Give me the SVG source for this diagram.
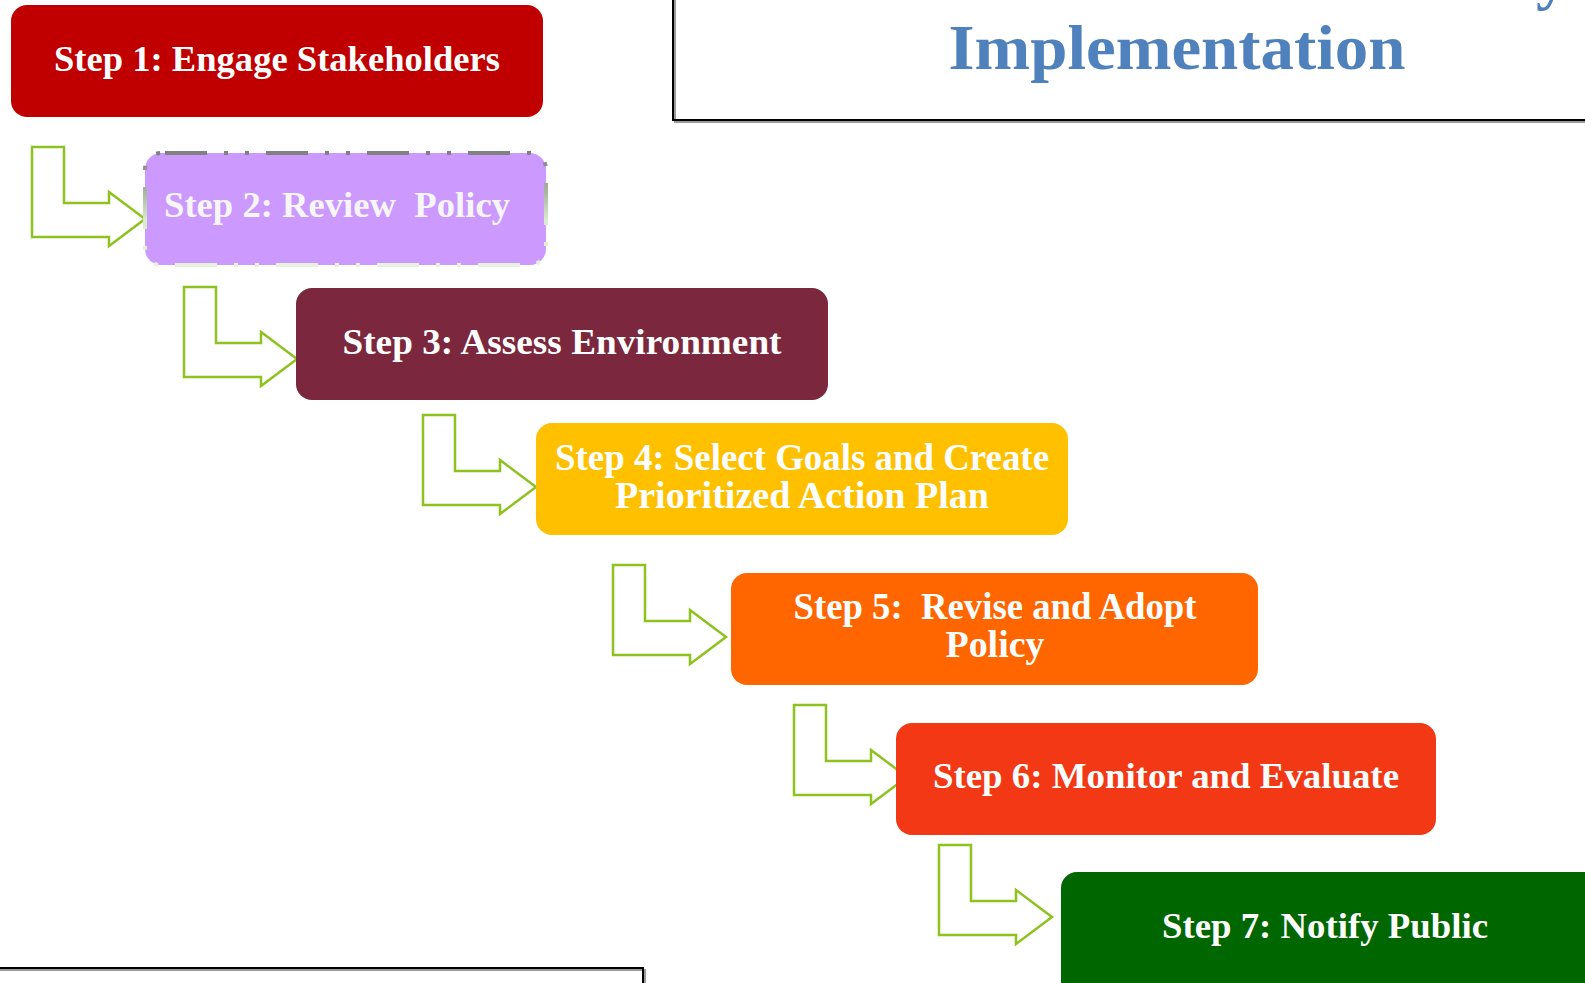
<svg xmlns="http://www.w3.org/2000/svg" width="1585" height="983" viewBox="0 0 1585 983">
<style>
.box{stroke:none}
.lbl{font-family:"Liberation Serif","DejaVu Serif",serif;font-weight:bold;font-size:36px;fill:#FFFFFF;text-anchor:middle}
.cond{font-size:37px}
.arrow{fill:#FFFFFF;stroke:#8DC21F;stroke-width:2.5;stroke-linejoin:miter}
.frame{fill:none;stroke:#000000;stroke-width:2}
.shadow{fill:none;stroke:#9A9A9A;stroke-width:2}
.title{font-family:"Liberation Serif","DejaVu Serif",serif;font-weight:bold;font-size:64px;fill:#4F81BD;text-anchor:middle}
</style>
<defs>
<path id="bent" d="M0,0 H32 V56 H77 V45 L113,72 L77,99 V90 H0 Z"/>
<linearGradient id="g2" x1="0" y1="0" x2="0" y2="1">
<stop offset="0" stop-color="#808080"/>
<stop offset="0.35" stop-color="#A9B5A0"/>
<stop offset="0.6" stop-color="#D8EBCB"/>
<stop offset="1" stop-color="#E6F2DD"/>
</linearGradient>
</defs>
<rect width="1585" height="983" fill="#FFFFFF"/>
<g id="title-frame">
<rect class="shadow" x="675" y="-10" width="930" height="132"/>
<rect class="frame" x="673" y="-12" width="930" height="132"/>
<text class="title" x="1552" y="-3">y</text>
<text class="title" x="1177" y="69" textLength="457" lengthAdjust="spacingAndGlyphs">Implementation</text>
</g>
<g id="bottom-frame">
<rect class="shadow" x="-10" y="970" width="655" height="40"/>
<rect class="frame" x="-12" y="968" width="655" height="40"/>
</g>
<g id="connectors">
<use href="#bent" class="arrow" x="32" y="147"/>
<use href="#bent" class="arrow" x="184" y="287"/>
<use href="#bent" class="arrow" x="423" y="415"/>
<use href="#bent" class="arrow" x="613" y="565"/>
<use href="#bent" class="arrow" x="794" y="705"/>
<use href="#bent" class="arrow" x="939" y="845"/>
</g>
<g id="step1">
<rect class="box" x="11" y="5" width="532" height="112" rx="16" fill="#C00000"/>
<text class="lbl" x="277" y="71" textLength="446" lengthAdjust="spacingAndGlyphs">Step 1: Engage Stakeholders</text>
</g>
<g id="step2">
<rect class="box" x="145" y="153" width="401" height="112" rx="16" fill="#CC99FF" stroke-width="4" stroke-dasharray="42 17 4 17 4 17" stroke-dashoffset="-4" style="stroke:url(#g2)"/>
<text class="lbl" x="164" y="217" style="text-anchor:start;fill:#F6F6F6" xml:space="preserve" textLength="346" lengthAdjust="spacingAndGlyphs">Step 2: Review  Policy</text>
</g>
<g id="step3">
<rect class="box" x="296" y="288" width="532" height="112" rx="16" fill="#7B273D"/>
<text class="lbl" x="562" y="354" textLength="439" lengthAdjust="spacingAndGlyphs">Step 3: Assess Environment</text>
</g>
<g id="step4">
<rect class="box" x="536" y="423" width="532" height="112" rx="16" fill="#FFC000"/>
<text class="lbl cond" x="802" y="470" textLength="494" lengthAdjust="spacingAndGlyphs">Step 4: Select Goals and Create</text>
<text class="lbl cond" x="802" y="508" textLength="374" lengthAdjust="spacingAndGlyphs">Prioritized Action Plan</text>
</g>
<g id="step5">
<rect class="box" x="731" y="573" width="527" height="112" rx="16" fill="#FF6600"/>
<text class="lbl cond" x="995" y="619" xml:space="preserve" textLength="403" lengthAdjust="spacingAndGlyphs">Step 5:  Revise and Adopt</text>
<text class="lbl cond" x="995" y="657" textLength="99" lengthAdjust="spacingAndGlyphs">Policy</text>
</g>
<g id="step6">
<rect class="box" x="896" y="723" width="540" height="112" rx="16" fill="#F23814"/>
<text class="lbl" x="1166" y="788" textLength="466" lengthAdjust="spacingAndGlyphs">Step 6: Monitor and Evaluate</text>
</g>
<g id="step7">
<rect class="box" x="1061" y="872" width="540" height="130" rx="16" fill="#006600"/>
<text class="lbl" x="1325" y="938" textLength="326" lengthAdjust="spacingAndGlyphs">Step 7: Notify Public</text>
</g>
</svg>
